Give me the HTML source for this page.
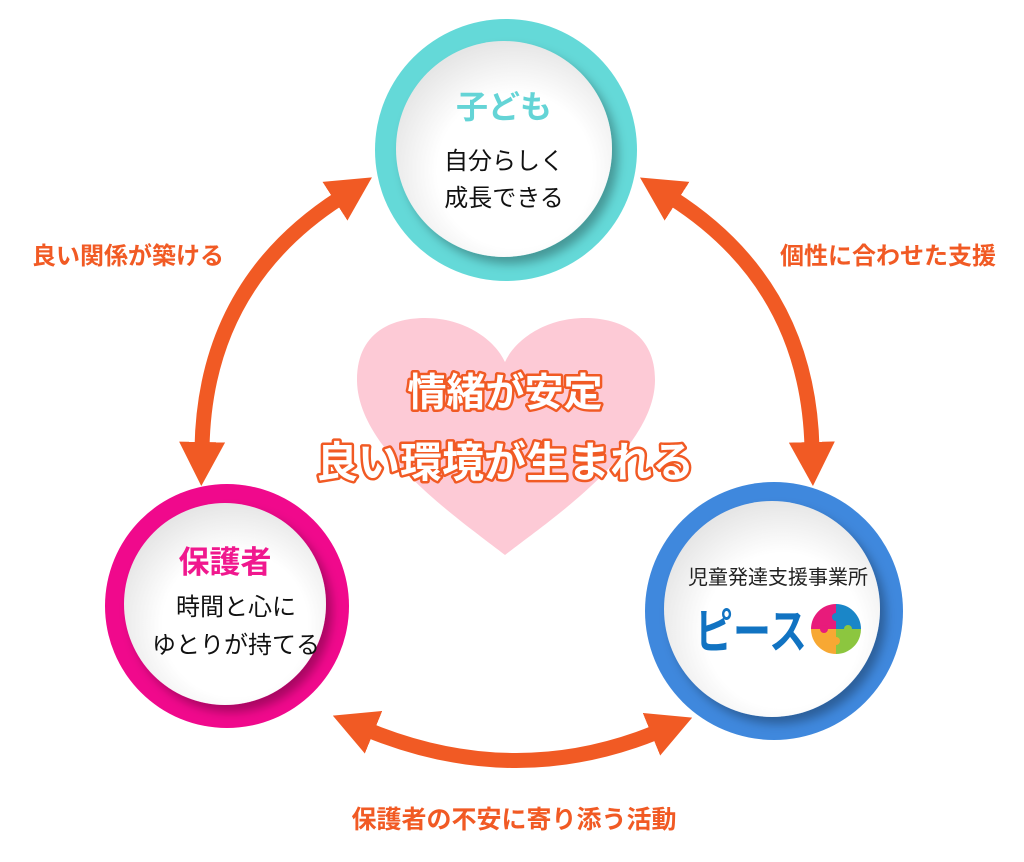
<!DOCTYPE html>
<html><head><meta charset="utf-8"><style>
html,body{margin:0;padding:0;background:#fff;}
svg{display:block;}
text{font-family:"Liberation Sans","Noto Sans CJK JP",sans-serif;}
</style></head><body>
<svg width="1024" height="862" viewBox="0 0 1024 862" xmlns="http://www.w3.org/2000/svg">
<defs>
<marker id="ah" markerUnits="userSpaceOnUse" markerWidth="44" markerHeight="46" refX="6" refY="23" orient="auto-start-reverse" viewBox="0 0 44 46">
<path d="M0,0 L44,23 L0,46 Z" fill="#f15a24"/>
</marker>
<radialGradient id="wg" cx="0.55" cy="0.6" r="0.6">
<stop offset="0.6" stop-color="#ffffff"/><stop offset="1" stop-color="#e6e6e6"/>
</radialGradient>
<filter id="sh" x="-20%" y="-20%" width="150%" height="150%"><feDropShadow dx="6" dy="7" stdDeviation="5" flood-color="#000" flood-opacity="0.3"/></filter>
</defs>

<path d="M505,555 C460,520 357,450 357,380 C357,330 395,318 425,318 C465,318 495,340 505,362 C515,340 545,318 585,318 C615,318 655,330 655,380 C655,450 550,520 505,555 Z" fill="#fdcad6"/>

<g fill="none" stroke="#f15a24" stroke-width="15">
<path d="M340,198 Q205,285 202,448" marker-start="url(#ah)" marker-end="url(#ah)"/>
<path d="M672,198 Q808,285 812,448" marker-start="url(#ah)" marker-end="url(#ah)"/>
<path d="M368,730 Q515,790 657,732" marker-start="url(#ah)" marker-end="url(#ah)"/>
</g>

<circle cx="506" cy="150" r="131" fill="#64d9d8"/>
<circle cx="504" cy="149" r="108" fill="url(#wg)" filter="url(#sh)"/>
<text x="504" y="118" text-anchor="middle" font-size="32" font-weight="bold" fill="#64d4d6">子ども</text>
<text x="504" y="169" text-anchor="middle" font-size="24" fill="#111">自分らしく</text>
<text x="504" y="206" text-anchor="middle" font-size="24" fill="#111">成長できる</text>

<circle cx="227" cy="606" r="122" fill="#f0098c"/>
<circle cx="225" cy="604" r="101" fill="url(#wg)" filter="url(#sh)"/>
<text x="225" y="573" text-anchor="middle" font-size="31" font-weight="bold" fill="#f0188e">保護者</text>
<text x="236" y="615" text-anchor="middle" font-size="24" fill="#111">時間と心に</text>
<text x="236" y="653" text-anchor="middle" font-size="24" fill="#111">ゆとりが持てる</text>

<circle cx="774" cy="611" r="129" fill="#3f88dd"/>
<circle cx="772" cy="609" r="108" fill="url(#wg)" filter="url(#sh)"/>
<text x="778" y="584" text-anchor="middle" font-size="20" fill="#222">児童発達支援事業所</text>
<text x="695" y="648" font-size="48" font-weight="bold" fill="#1173c2" textLength="112" lengthAdjust="spacingAndGlyphs">ピース</text>
<g transform="translate(836,629)">
<path d="M0,0 L-25,0 A25,25 0 0 1 0,-25 Z" fill="#e81b7b"/>
<path d="M0,0 L0,-25 A25,25 0 0 1 25,0 Z" fill="#1a86c8"/>
<path d="M0,0 L25,0 A25,25 0 0 1 0,25 Z" fill="#8cc63f"/>
<path d="M0,0 L0,25 A25,25 0 0 1 -25,0 Z" fill="#f7a833"/>
<circle cx="-12" cy="0" r="4" fill="#e81b7b"/><circle cx="0" cy="-12" r="4" fill="#1a86c8"/>
<circle cx="12" cy="0" r="4" fill="#8cc63f"/><circle cx="0" cy="12" r="4" fill="#f7a833"/>
</g>

<g font-weight="bold" text-anchor="middle" fill="#fff" stroke="#f15a24" stroke-width="5" paint-order="stroke" stroke-linejoin="round">
<text x="505" y="406" font-size="39">情緒が安定</text>
<text x="505" y="477" font-size="42">良い環境が生まれる</text>
</g>

<g font-weight="bold" fill="#f15a24">
<text x="128" y="264" text-anchor="middle" font-size="24">良い関係が築ける</text>
<text x="888" y="264" text-anchor="middle" font-size="24">個性に合わせた支援</text>
<text x="514" y="828" text-anchor="middle" font-size="25">保護者の不安に寄り添う活動</text>
</g>
</svg>
</body></html>
